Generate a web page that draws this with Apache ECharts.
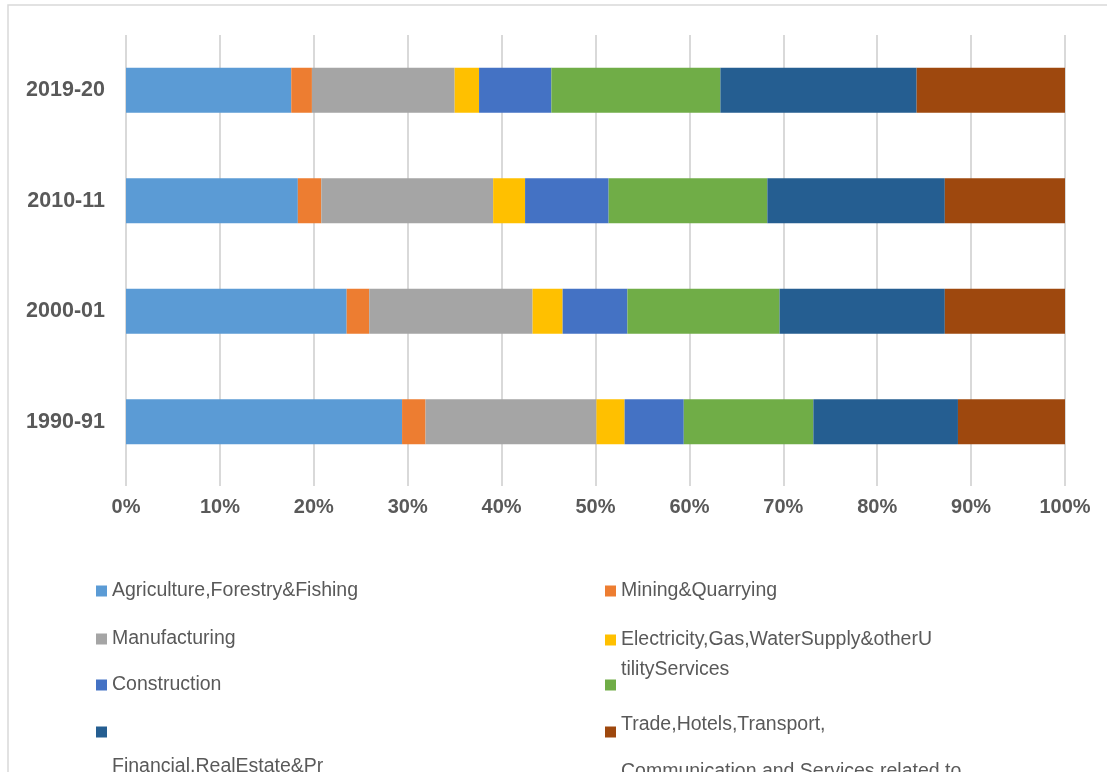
<!DOCTYPE html>
<html>
<head>
<meta charset="utf-8">
<script src="https://cdn.jsdelivr.net/npm/echarts@6/dist/echarts.min.js"></script>
<style>html,body{margin:0;padding:0;background:#fff}#c{width:1107px;height:772px}</style>
</head>
<body>
<div id="c"></div>
<script>
const categories = ['1990-91', '2000-01', '2010-11', '2019-20'];
const seriesNames = [
  'Agriculture,Forestry&Fishing',
  'Mining&Quarrying',
  'Manufacturing',
  'Electricity,Gas,WaterSupply&otherUtilityServices',
  'Construction',
  'PublicAdministration,Defence&OtherServices',
  'Financial,RealEstate&ProfessionalServices',
  'Trade,Hotels,Transport,Communication and Services related to Broadcasting'
];
const agriculture = [29.4, 23.5, 18.3, 17.6];
const mining = [2.5, 2.4, 2.5, 2.2];
const manufacturing = [18.2, 17.4, 18.3, 15.2];
const electricity = [3.0, 3.2, 3.4, 2.6];
const construction = [6.3, 6.9, 8.9, 7.7];
const publicAdmin = [13.8, 16.2, 16.9, 18.0];
const financial = [15.4, 17.6, 18.9, 20.9];
const trade = [11.4, 12.8, 12.8, 15.8];
const xTicks = [0, 10, 20, 30, 40, 50, 60, 70, 80, 90, 100];

const seriesData = [agriculture, mining, manufacturing, electricity, construction, publicAdmin, financial, trade];
const colors = ['#5b9bd5', '#ed7d31', '#a5a5a5', '#ffc000', '#4472c4', '#70ad47', '#255e91', '#9e480e'];

const FONT = '"Liberation Sans", Arial, sans-serif';
const FS = 19.5;
const TC = '#595959';
const legendText = { fontSize: FS, color: TC, fontFamily: FONT, lineHeight: 22 };
function tok(lh) { return { fontSize: FS, color: TC, fontFamily: FONT, lineHeight: lh }; }
function mkLegend(i, left, top, extra, fmt) {
  return {
    data: [seriesNames[i]], left: left, top: top, padding: 0,
    itemWidth: 11, itemHeight: 11, icon: 'rect', selectedMode: false,
    textStyle: Object.assign({}, legendText, extra || {}),
    formatter: fmt || function (n) { return n; }
  };
}

const chart = echarts.init(document.getElementById('c'), null, { renderer: 'canvas' });
chart.setOption({
  animation: false,
  backgroundColor: '#ffffff',
  color: colors,
  graphic: [{
    type: 'rect', shape: { x: 8, y: 5, width: 1200, height: 900 },
    style: { fill: 'none', stroke: '#d9d9d9', lineWidth: 1.5 }, silent: true
  }],
  grid: { left: 126, right: 42, top: 35, bottom: 295, containLabel: false },
  xAxis: {
    type: 'value', min: 0, max: 100, interval: 10,
    axisLine: { show: false },
    axisTick: { show: true, length: 9, lineStyle: { color: '#d9d9d9', width: 2 } },
    splitLine: { show: true, lineStyle: { color: '#d9d9d9', width: 2 } },
    axisLabel: {
      margin: 20, color: TC, fontSize: 20, fontWeight: 'bold', fontFamily: FONT,
      formatter: function (v) { return xTicks.indexOf(v) >= 0 ? v + '%' : ''; }
    }
  },
  yAxis: {
    type: 'category', data: categories,
    axisLine: { show: false }, axisTick: { show: false },
    axisLabel: { margin: 21, color: TC, fontSize: 21.5, fontWeight: 'bold', fontFamily: FONT }
  },
  legend: [
    mkLegend(0, 96, 580),
    mkLegend(1, 605, 580),
    mkLegend(2, 96, 628),
    mkLegend(3, 605, 595, { rich: { s: tok(30), e: tok(30) } },
      function () { return '{s| }\n{e|Electricity,Gas,WaterSupply&otherU}\n{e|tilityServices}'; }),
    mkLegend(4, 96, 674),
    mkLegend(5, 605, 679.5, {}, function () { return ''; }),
    mkLegend(6, 96, 687, { rich: { s: tok(70), f: tok(20) } },
      function () { return '{s| }\n{f|Financial,RealEstate&Pr}'; }),
    mkLegend(7, 605, 685, { rich: { a: tok(80), b: tok(14) } },
      function () { return '{a|Trade,Hotels,Transport,}\n{b|Communication and Services related to}'; })
  ],
  series: seriesData.map(function (d, i) {
    return {
      name: seriesNames[i], type: 'bar', stack: 'total', data: d,
      barWidth: 45, itemStyle: { color: colors[i] }
    };
  })
});
</script>
</body>
</html>
